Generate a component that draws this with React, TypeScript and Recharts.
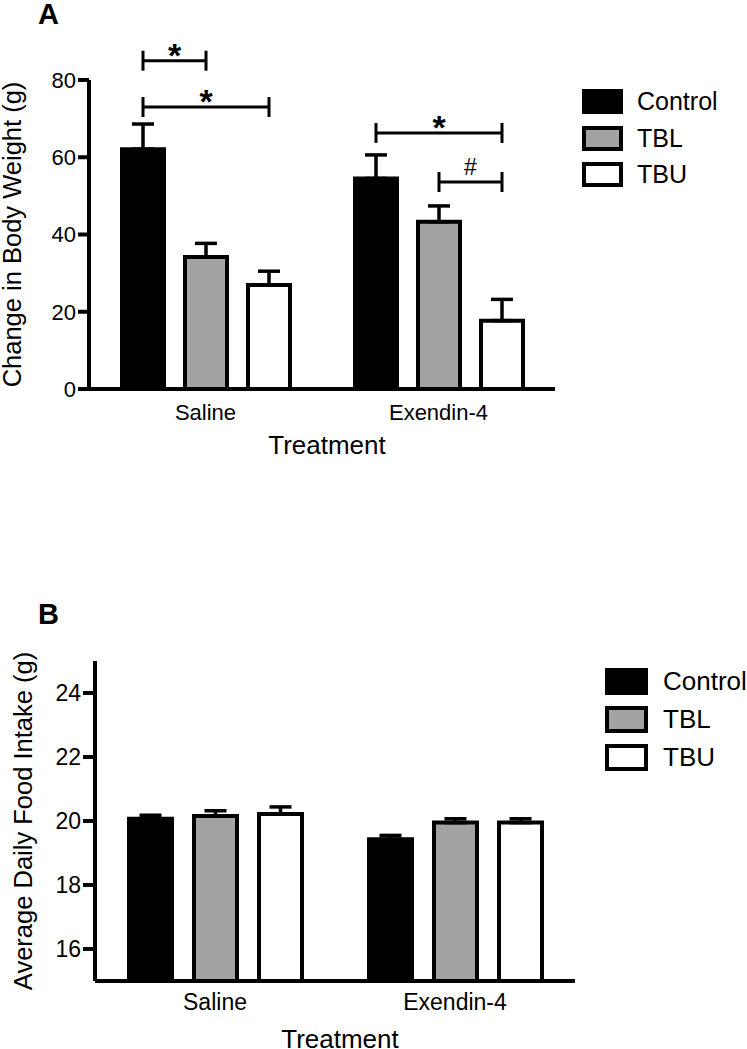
import React from 'react';
import { BarChart, Bar, XAxis, YAxis, ErrorBar, Legend, Rectangle } from 'recharts';

const FONT = '"Liberation Sans", Arial, Helvetica, sans-serif';

const groups = ['Saline', 'Exendin-4'];
const seriesNames = ['Control', 'TBL', 'TBU'];
const seriesFills = ['#000000', '#a3a3a3', '#ffffff'];

// panel A - change in body weight (g)
const weightControl = [62.1, 54.5];
const weightTBL = [34.2, 43.3];
const weightTBU = [26.9, 17.7];
const weightControlErr = [6.5, 6.1];
const weightTBLErr = [3.5, 4.1];
const weightTBUErr = [3.6, 5.5];
const weightTicks = [0, 20, 40, 60, 80];

// significance brackets drawn over panel A
const sigGroup = [0, 0, 1, 1];
const sigFrom = [0, 0, 0, 1];
const sigTo = [1, 2, 2, 2];
const sigLevel = [85, 73, 66.3, 53.6];
const sigMark = ['*', '*', '*', '#'];

// panel B - average daily food intake (g)
const foodControl = [20.07, 19.43];
const foodTBL = [20.16, 19.95];
const foodTBU = [20.22, 19.95];
const foodControlErr = [0.11, 0.12];
const foodTBLErr = [0.16, 0.12];
const foodTBUErr = [0.22, 0.12];
const foodTicks = [16, 18, 20, 22, 24];

const makeRows = (vals: number[][], errs: number[][]) =>
  groups.map((g, i) => {
    const row: any = { group: g };
    seriesNames.forEach((s, k) => {
      row[s] = vals[k][i];
      row[s + 'Err'] = [0, errs[k][i]];
    });
    return row;
  });

const weightRows = makeRows([weightControl, weightTBL, weightTBU], [weightControlErr, weightTBLErr, weightTBUErr]);
const foodRows = makeRows([foodControl, foodTBL, foodTBU], [foodControlErr, foodTBLErr, foodTBUErr]);

const BAR_GAP_A = 21;
const BAR_GAP_B = 22;

// control bar of panel A also carries the significance brackets of its group
const ControlWithBrackets = (props: any) => {
  const { x, y, width, height, index } = props;
  const base = y + height;
  const ppu = height / weightControl[index];
  const cx = (k: number) => x + width / 2 + k * (width + BAR_GAP_A);
  return (
    <g>
      <Rectangle {...props} />
      {sigGroup.map((g, i) => {
        if (g !== index) return null;
        const yy = base - sigLevel[i] * ppu;
        const x1 = cx(sigFrom[i]);
        const x2 = cx(sigTo[i]);
        const star = sigMark[i] === '*';
        return (
          <g key={i} stroke="#000" strokeWidth={3}>
            <line x1={x1} x2={x2} y1={yy} y2={yy} />
            <line x1={x1} x2={x1} y1={yy - 10} y2={yy + 10} />
            <line x1={x2} x2={x2} y1={yy - 10} y2={yy + 10} />
            <text
              x={(x1 + x2) / 2}
              y={star ? yy + 6 : yy - 7}
              textAnchor="middle"
              stroke="none"
              fill="#000"
              fontFamily={FONT}
              fontSize={star ? 34 : 23}
              fontWeight={star ? 'bold' : 'normal'}
            >
              {sigMark[i]}
            </text>
          </g>
        );
      })}
    </g>
  );
};

const legendContent = (w: number, h: number, pitch: number, gap: number, fs: number) => (props: any) => (
  <div style={{ fontFamily: FONT }}>
    {(props.payload || []).map((p: any, i: number) => (
      <div key={i} style={{ display: 'flex', alignItems: 'center', height: h, marginBottom: pitch - h }}>
        <div
          style={{
            width: w,
            height: h,
            boxSizing: 'border-box',
            background: seriesFills[i],
            border: '4px solid #000',
          }}
        />
        <span style={{ marginLeft: gap, fontSize: fs, lineHeight: `${h}px`, color: '#000', whiteSpace: 'nowrap' }}>
          {p.value}
        </span>
      </div>
    ))}
  </div>
);

const axisLine = { stroke: '#000', strokeWidth: 4 };
const tickLine = { stroke: '#000', strokeWidth: 4 };

const css = `
.recharts-cartesian-axis-line { stroke: #000; stroke-width: 4px; }
.recharts-cartesian-axis-tick-line { stroke: #000; stroke-width: 4px; }
`;

export default function App() {
  return (
    <div style={{ position: 'absolute', left: 0, top: 0, width: 747, height: 1049, background: '#fff', fontFamily: FONT }}>
      <style>{css}</style>
      <div style={{ position: 'absolute', left: 38, top: 0, fontSize: 29, lineHeight: '29px', fontWeight: 'bold' }}>A</div>
      <div style={{ position: 'absolute', left: 38, top: 600, fontSize: 29, lineHeight: '29px', fontWeight: 'bold' }}>B</div>

      <div style={{ position: 'absolute', left: 0, top: 0 }}>
        <BarChart
          width={747}
          height={480}
          data={weightRows}
          margin={{ top: 80, right: 192, left: 0, bottom: 51 }}
          barSize={42}
          barGap={BAR_GAP_A}
        >
          <XAxis
            dataKey="group"
            height={40}
            axisLine={axisLine}
            tickLine={false}
            tickSize={10}
            tickMargin={5}
            fontSize={22}
            tick={{ fill: '#000', fontSize: 22, fontFamily: FONT }}
            label={{ value: 'Treatment', position: 'bottom', offset: 7, dx: 5, fill: '#000', fontSize: 26, fontFamily: FONT }}
          />
          <YAxis
            width={89}
            domain={[0, 80]}
            ticks={weightTicks}
            interval={0}
            axisLine={axisLine}
            tickLine={tickLine}
            tickSize={11}
            tickMargin={2}
            fontSize={22}
            tick={{ fill: '#000', fontSize: 22, fontFamily: FONT }}
            label={{
              value: 'Change in Body Weight (g)',
              angle: -90,
              position: 'insideLeft',
              offset: 12,
              textAnchor: 'middle',
              style: { textAnchor: 'middle' },
              fill: '#000',
              fontSize: 25.5,
              fontFamily: FONT,
            }}
          />
          <Legend
            layout="vertical"
            align="center"
            verticalAlign="middle"
            wrapperStyle={{ left: 582, top: 89, width: 165 }}
            content={legendContent(41, 25, 36.5, 14, 25)}
          />
          {seriesNames.map((s, k) => (
            <Bar
              key={s}
              dataKey={s}
              name={s}
              fill={seriesFills[k]}
              stroke="#000"
              strokeWidth={4}
              isAnimationActive={false}
              shape={k === 0 ? ControlWithBrackets : undefined}
            >
              <ErrorBar dataKey={s + 'Err'} direction="y" width={11} stroke="#000" strokeWidth={3.5} isAnimationActive={false} />
            </Bar>
          ))}
        </BarChart>
      </div>

      <div style={{ position: 'absolute', left: 0, top: 590 }}>
        <BarChart
          width={747}
          height={459}
          data={foodRows}
          margin={{ top: 71, right: 172, left: 0, bottom: 28 }}
          barSize={43}
          barGap={BAR_GAP_B}
        >
          <XAxis
            dataKey="group"
            height={40}
            axisLine={axisLine}
            tickLine={false}
            tickSize={8}
            tickMargin={5}
            fontSize={23}
            tick={{ fill: '#000', fontSize: 23, fontFamily: FONT }}
            label={{ value: 'Treatment', position: 'bottom', offset: 9, dx: 5, fill: '#000', fontSize: 26, fontFamily: FONT }}
          />
          <YAxis
            width={95}
            domain={[15, 25]}
            ticks={foodTicks}
            interval={0}
            allowDataOverflow
            axisLine={axisLine}
            tickLine={tickLine}
            tickSize={12}
            tickMargin={2}
            fontSize={23}
            tick={{ fill: '#000', fontSize: 23, fontFamily: FONT }}
            label={{
              value: 'Average Daily Food Intake (g)',
              angle: -90,
              position: 'insideLeft',
              offset: 23,
              textAnchor: 'middle',
              style: { textAnchor: 'middle' },
              fill: '#000',
              fontSize: 25.5,
              fontFamily: FONT,
            }}
          />
          <Legend
            layout="vertical"
            align="center"
            verticalAlign="middle"
            wrapperStyle={{ left: 605, top: 78, width: 142 }}
            content={legendContent(43, 27, 38, 15, 26)}
          />
          {seriesNames.map((s, k) => (
            <Bar key={s} dataKey={s} name={s} fill={seriesFills[k]} stroke="#000" strokeWidth={4} isAnimationActive={false}>
              <ErrorBar dataKey={s + 'Err'} direction="y" width={11} stroke="#000" strokeWidth={3.5} isAnimationActive={false} />
            </Bar>
          ))}
        </BarChart>
      </div>
    </div>
  );
}
